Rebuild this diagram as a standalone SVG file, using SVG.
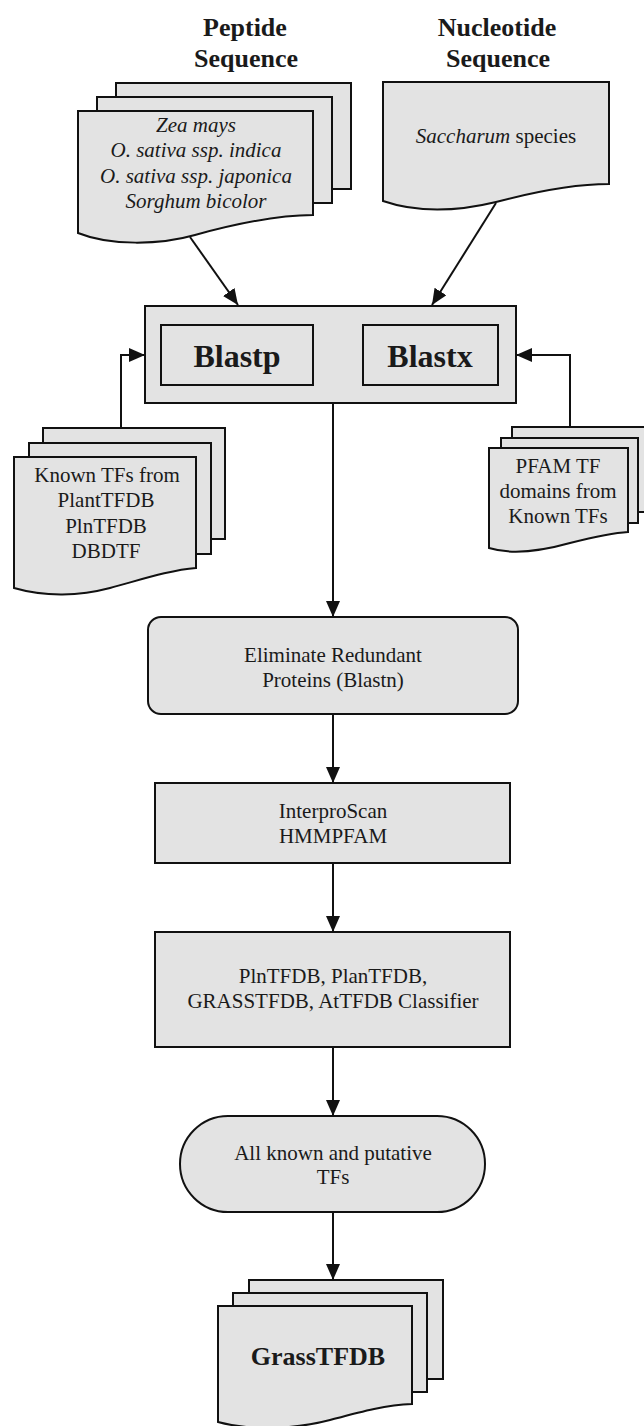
<svg xmlns="http://www.w3.org/2000/svg" width="644" height="1426" viewBox="0 0 644 1426">
<style>
.s{fill:#e3e3e3;stroke:#111;stroke-width:2}
.t{font-family:"Liberation Serif","Times New Roman",serif;font-size:21px;fill:#1a1a1a;text-anchor:middle}
.i{font-style:italic}
.b{font-weight:bold}
.c{fill:none;stroke:#111;stroke-width:2}
</style>
<defs>
<marker id="ah" markerUnits="userSpaceOnUse" markerWidth="16" markerHeight="14" refX="16" refY="7" orient="auto">
<path d="M0,0 L16,7 L0,14 Z" fill="#111"/>
</marker>
</defs>
<rect width="644" height="1426" fill="#fff"/>

<g id="headings">
<text class="t b" x="245" y="36" style="font-size:26px">Peptide</text>
<text class="t b" x="246" y="67" style="font-size:26px">Sequence</text>
<text class="t b" x="497" y="36" style="font-size:26px">Nucleotide</text>
<text class="t b" x="498" y="67" style="font-size:26px">Sequence</text>
</g>

<g id="peptide">
<rect class="s" x="116" y="83" width="235" height="106"/>
<rect class="s" x="97" y="97" width="235" height="106"/>
<path class="s" d="M78,111 H313 V215 C275,215 235,224 195,235 C160,245 110,246 78,233 Z"/>
<text class="t i" x="196" y="132">Zea mays</text>
<text class="t i" x="196" y="157">O. sativa ssp. indica</text>
<text class="t i" x="196" y="183">O. sativa ssp. japonica</text>
<text class="t i" x="196" y="208">Sorghum bicolor</text>
</g>

<g id="nucleotide">
<path class="s" d="M383,82 H609 V184 C575,184 530,193 496,202 C455,212 415,212 383,201 Z"/>
<text class="t" x="496" y="143"><tspan class="i">Saccharum</tspan> species</text>
</g>

<g id="blast">
<rect class="s" x="145" y="306" width="371" height="97"/>
<rect class="s" x="161" y="325" width="152" height="60"/>
<rect class="s" x="363" y="325" width="135" height="60"/>
<text class="t b" x="237" y="367" style="font-size:32px">Blastp</text>
<text class="t b" x="430" y="367" style="font-size:32px">Blastx</text>
</g>

<g id="knowntfs">
<rect class="s" x="43" y="428" width="182" height="111"/>
<rect class="s" x="29" y="443" width="182" height="111"/>
<path class="s" d="M14,457 H196 V568 C170,570 140,580 110,588 C80,596 45,597 14,588 Z"/>
<text class="t" x="107" y="482">Known TFs from</text>
<text class="t" x="106" y="507">PlantTFDB</text>
<text class="t" x="106" y="533">PlnTFDB</text>
<text class="t" x="106" y="558">DBDTF</text>
</g>

<g id="pfam">
<rect class="s" x="512" y="427" width="140" height="85"/>
<rect class="s" x="501" y="438" width="137" height="85"/>
<path class="s" d="M489,448 H628 V532 C610,533 590,538 570,543 C545,550 515,556 489,548 Z"/>
<text class="t" x="558" y="473">PFAM TF</text>
<text class="t" x="558" y="498">domains from</text>
<text class="t" x="558" y="523">Known TFs</text>
</g>

<g id="eliminate">
<rect class="s" x="148" y="617" width="370" height="97" rx="13"/>
<text class="t" x="333" y="662">Eliminate Redundant</text>
<text class="t" x="333" y="687">Proteins (Blastn)</text>
</g>

<g id="interpro">
<rect class="s" x="155" y="783" width="355" height="80"/>
<text class="t" x="333" y="818">InterproScan</text>
<text class="t" x="333" y="843">HMMPFAM</text>
</g>

<g id="classifier">
<rect class="s" x="155" y="932" width="355" height="115"/>
<text class="t" x="333" y="983">PlnTFDB, PlanTFDB,</text>
<text class="t" x="333" y="1008">GRASSTFDB, AtTFDB Classifier</text>
</g>

<g id="alltfs">
<rect class="s" x="180" y="1116" width="305" height="96" rx="48"/>
<text class="t" x="333" y="1160">All known and putative</text>
<text class="t" x="333" y="1184">TFs</text>
</g>

<g id="grasstfdb">
<rect class="s" x="249" y="1280" width="194" height="99"/>
<rect class="s" x="233" y="1293" width="194" height="99"/>
<path class="s" d="M218,1306 H412 V1404 C385,1405 360,1412 330,1420 C300,1428 255,1432 218,1422 Z"/>
<text class="t b" x="318" y="1365" style="font-size:26px">GrassTFDB</text>
</g>

<g id="connectors">
<path class="c" d="M190,237 L238,305" marker-end="url(#ah)"/>
<path class="c" d="M496,203 L432,305" marker-end="url(#ah)"/>
<path class="c" d="M121,428 V355 H145" marker-end="url(#ah)"/>
<path class="c" d="M570,427 V355 H516" marker-end="url(#ah)"/>
<path class="c" d="M333,403 V617" marker-end="url(#ah)"/>
<path class="c" d="M333,714 V783" marker-end="url(#ah)"/>
<path class="c" d="M333,863 V932" marker-end="url(#ah)"/>
<path class="c" d="M333,1047 V1116" marker-end="url(#ah)"/>
<path class="c" d="M333,1212 V1280" marker-end="url(#ah)"/>
</g>
</svg>
